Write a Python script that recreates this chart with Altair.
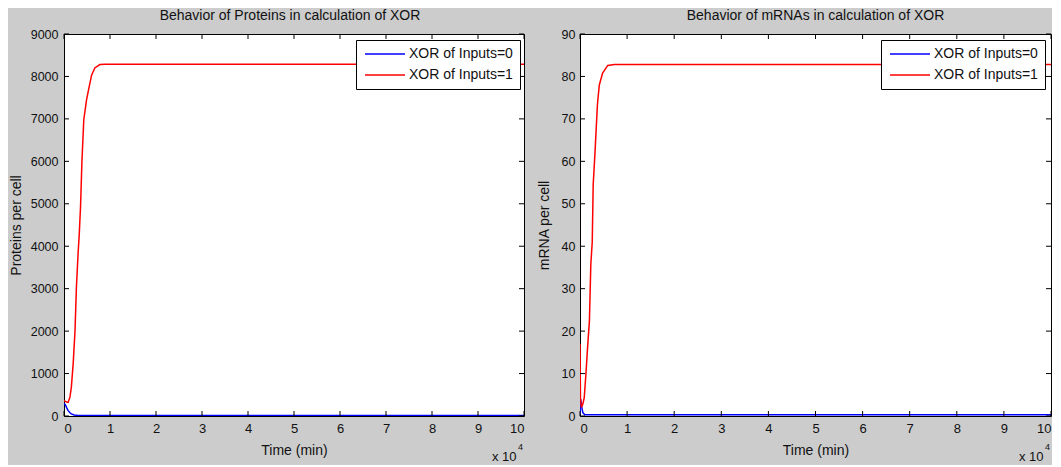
import altair as alt
import pandas as pd

# ---------------- data (time in minutes) ----------------
series_names = ["XOR of Inputs=0", "XOR of Inputs=1"]
series_colors = ["#0000ff", "#ff0000"]

prot_t0 = [0, 300, 600, 900, 1300, 1600, 2200, 3000, 5000, 100000]
prot_v0 = [300, 260, 190, 125, 75, 50, 25, 14, 10, 10]
prot_t1 = [0, 300, 600, 900, 1300, 1600, 2000, 2400, 2700, 3100, 3300, 3600,
           3900, 4300, 4900, 5400, 6000, 6700, 7800, 9000, 100000]
prot_v1 = [360, 345, 330, 320, 450, 680, 1240, 2020, 3040, 3900, 4250, 4940,
           6000, 6980, 7450, 7720, 8030, 8200, 8280, 8290, 8290]

mrna_t0 = [0, 150, 300, 600, 1000, 100000]
mrna_v0 = [0.3, 4, 2.5, 0.8, 0.3, 0.3]
mrna_t1 = [0, 100, 300, 600, 900, 1300, 1600, 2000, 2300, 2600, 2800, 3200,
           3700, 4100, 4800, 5900, 7300, 100000]
mrna_v1 = [17, 4, 2, 2.8, 4.3, 10.6, 16, 22.4, 35.8, 41, 54.5, 62.4,
           73.4, 78, 80.8, 82.6, 82.8, 82.8]

x_ticks = [0, 10000, 20000, 30000, 40000, 50000, 60000, 70000, 80000, 90000, 100000]
prot_ticks = [0, 1000, 2000, 3000, 4000, 5000, 6000, 7000, 8000, 9000]
mrna_ticks = [0, 10, 20, 30, 40, 50, 60, 70, 80, 90]

FONT = "Liberation Sans"
H = 382


def frame(t0, v0, t1, v1):
    rows = []
    for t, v in zip(t0, v0):
        rows.append({"t": t, "v": v, "s": series_names[0], "o": 0})
    for t, v in zip(t1, v1):
        rows.append({"t": t, "v": v, "s": series_names[1], "o": 1})
    return pd.DataFrame(rows)


def panel(df, W, ymax, yticks, ytitle, title, title_dx, legx, ytp, ylp):
    xs = alt.Scale(domain=[0, 100000], nice=False, zero=False)
    ys = alt.Scale(domain=[0, ymax], nice=False)
    xax = alt.Axis(values=x_ticks, labelExpr="datum.value / 10000", ticks=False,
                   tickSize=0, domain=False, grid=False, labelPadding=6,
                   labelFontSize=13, labelFont=FONT, labelColor="#111",
                   title="Time (min)", titleFont=FONT, titleFontSize=14,
                   titleFontWeight="normal", titleColor="#111", titlePadding=8)
    yax = alt.Axis(values=yticks, format="d", ticks=False, tickSize=0, domain=False,
                   grid=False, labelPadding=ylp, labelFontSize=12.5, labelFont=FONT,
                   labelColor="#111", title=ytitle, titleFont=FONT,
                   titleFontSize=14, titleFontWeight="normal", titleColor="#111",
                   titlePadding=ytp)
    legend = alt.Legend(orient="none", legendX=legx, legendY=6, title=None,
                        fillColor="white", strokeColor="black", padding=7,
                        symbolType="M-1,0H7", symbolSize=100,
                        symbolStrokeWidth=1.5, labelFontSize=14, labelFont=FONT,
                        labelColor="#111", labelOffset=32, rowPadding=7)
    lines = alt.Chart(df).mark_line(strokeWidth=1.5, clip=True).encode(
        x=alt.X("t:Q", scale=xs, axis=xax),
        y=alt.Y("v:Q", scale=ys, axis=yax),
        color=alt.Color("s:N", scale=alt.Scale(domain=series_names, range=series_colors),
                        legend=legend),
        order="o:Q",
    )
    xt = pd.DataFrame({"x": x_ticks})
    yt = pd.DataFrame({"y": yticks})
    tick_b = alt.Chart(xt).mark_rule(color="black", strokeWidth=1).encode(
        x="x:Q", y=alt.value(H), y2=alt.value(H - 5))
    tick_t = alt.Chart(xt).mark_rule(color="black", strokeWidth=1).encode(
        x="x:Q", y=alt.value(0), y2=alt.value(5))
    tick_l = alt.Chart(yt).mark_rule(color="black", strokeWidth=1).encode(
        y="y:Q", x=alt.value(0), x2=alt.value(5))
    tick_r = alt.Chart(yt).mark_rule(color="black", strokeWidth=1).encode(
        y="y:Q", x=alt.value(W - 5), x2=alt.value(W))
    exp_base = alt.Chart(pd.DataFrame({"lab": ["x 10"]})).mark_text(
        align="left", baseline="alphabetic", font=FONT, fontSize=13, color="#111"
    ).encode(text="lab:N", x=alt.value(W - 32), y=alt.value(H + 45))
    exp_sup = alt.Chart(pd.DataFrame({"lab": ["4"]})).mark_text(
        align="left", baseline="alphabetic", font=FONT, fontSize=9, color="#111"
    ).encode(text="lab:N", x=alt.value(W - 6), y=alt.value(H + 34))
    return alt.layer(lines, tick_b, tick_t, tick_l, tick_r, exp_base, exp_sup).properties(
        width=W, height=H,
        title=alt.TitleParams(title, font=FONT, fontSize=14, fontWeight="normal",
                              color="#111", offset=5, dx=title_dx),
    )


left = panel(frame(prot_t0, prot_v0, prot_t1, prot_v1), 460, 9000, prot_ticks,
             "Proteins per cell", "Behavior of Proteins in calculation of XOR", -4,
             292, 7, 6)
right = panel(frame(mrna_t0, mrna_v0, mrna_t1, mrna_v1), 471, 90, mrna_ticks,
              "mRNA per cell", "Behavior of mRNAs in calculation of XOR", 0,
              301, 10, 5)

chart = alt.hconcat(left, right, spacing=56, bounds="flush").resolve_scale(
    y="independent", color="independent"
).properties(
    padding={"left": 0, "top": 0, "right": 0, "bottom": 0},
).configure(background="#cccccc").configure_view(
    fill="white", stroke="black", strokeWidth=1
)

chart.save("out.html", embed_options={"renderer": "svg", "actions": False})
